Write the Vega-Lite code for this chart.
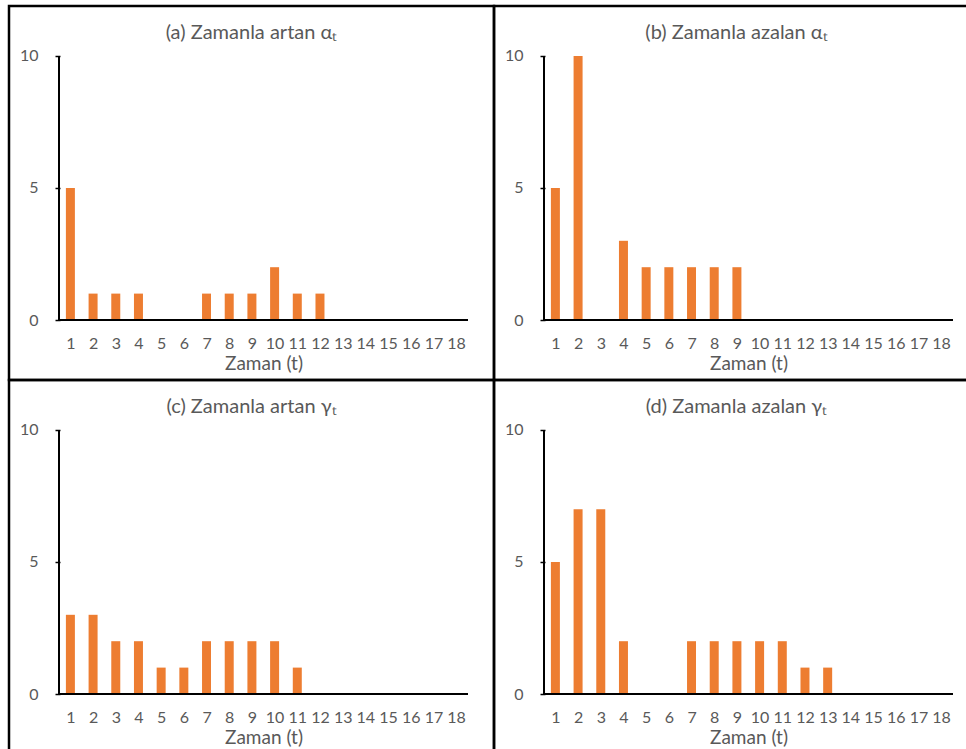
{
  "$schema": "https://vega.github.io/schema/vega-lite/v6.json",
  "padding": {"left": 7, "top": 4, "right": 2, "bottom": 2},
  "background": "white",
  "datasets": {
    "a": [{"t":1,"n":5},{"t":2,"n":1},{"t":3,"n":1},{"t":4,"n":1},{"t":5,"n":0},{"t":6,"n":0},{"t":7,"n":1},{"t":8,"n":1},{"t":9,"n":1},{"t":10,"n":2},{"t":11,"n":1},{"t":12,"n":1},{"t":13,"n":0},{"t":14,"n":0},{"t":15,"n":0},{"t":16,"n":0},{"t":17,"n":0},{"t":18,"n":0}],
    "b": [{"t":1,"n":5},{"t":2,"n":10},{"t":3,"n":0},{"t":4,"n":3},{"t":5,"n":2},{"t":6,"n":2},{"t":7,"n":2},{"t":8,"n":2},{"t":9,"n":2},{"t":10,"n":0},{"t":11,"n":0},{"t":12,"n":0},{"t":13,"n":0},{"t":14,"n":0},{"t":15,"n":0},{"t":16,"n":0},{"t":17,"n":0},{"t":18,"n":0}],
    "c": [{"t":1,"n":3},{"t":2,"n":3},{"t":3,"n":2},{"t":4,"n":2},{"t":5,"n":1},{"t":6,"n":1},{"t":7,"n":2},{"t":8,"n":2},{"t":9,"n":2},{"t":10,"n":2},{"t":11,"n":1},{"t":12,"n":0},{"t":13,"n":0},{"t":14,"n":0},{"t":15,"n":0},{"t":16,"n":0},{"t":17,"n":0},{"t":18,"n":0}],
    "d": [{"t":1,"n":5},{"t":2,"n":7},{"t":3,"n":7},{"t":4,"n":2},{"t":5,"n":0},{"t":6,"n":0},{"t":7,"n":2},{"t":8,"n":2},{"t":9,"n":2},{"t":10,"n":2},{"t":11,"n":2},{"t":12,"n":1},{"t":13,"n":1},{"t":14,"n":0},{"t":15,"n":0},{"t":16,"n":0},{"t":17,"n":0},{"t":18,"n":0}]
  },
  "columns": 2,
  "spacing": 0,
  "bounds": "flush",
  "concat": [
    {
      "data": {"name": "a"},
      "width": 485, "height": 374,
      "title": {"text": "(a) Zamanla artan αₜ"},
      "layer": [
        {"mark": {"type": "bar", "size": 9, "color": "#ED7D31"},
         "encoding": {
           "x": {"field": "t", "type": "quantitative", "scale": {"domain": [-1.4856, 19.4496], "nice": false, "zero": false},
                 "axis": {"values": [1,2,3,4,5,6,7,8,9,10,11,12,13,14,15,16,17,18], "labelOverlap": false, "title": "Zaman (t)"}},
           "y": {"field": "n", "type": "quantitative", "scale": {"domain": [-2.2727, 11.8939], "nice": false, "zero": false},
                 "axis": {"values": [0,5,10], "title": null}},
           "y2": {"datum": 0}
         }},
        {"mark": {"type": "rule", "color": "#000000", "strokeWidth": 1.5},
         "encoding": {"x": {"datum": 0.5, "axis": {"values": [1,2,3,4,5,6,7,8,9,10,11,12,13,14,15,16,17,18], "labelOverlap": false, "title": "Zaman (t)"}}, "y": {"datum": 0, "axis": {"values": [0,5,10], "title": null}}, "y2": {"datum": 10}}},
        {"mark": {"type": "rule", "color": "#000000", "strokeWidth": 1.5},
         "encoding": {"x": {"datum": 0.5, "axis": {"values": [1,2,3,4,5,6,7,8,9,10,11,12,13,14,15,16,17,18], "labelOverlap": false, "title": "Zaman (t)"}}, "x2": {"datum": 18.5}, "y": {"datum": 0, "axis": {"values": [0,5,10], "title": null}}}}
      ]
    },
    {
      "data": {"name": "b"},
      "width": 485, "height": 374,
      "title": {"text": "(b) Zamanla azalan αₜ"},
      "layer": [
        {"mark": {"type": "bar", "size": 9, "color": "#ED7D31"},
         "encoding": {
           "x": {"field": "t", "type": "quantitative", "scale": {"domain": [-1.4856, 19.4496], "nice": false, "zero": false},
                 "axis": {"values": [1,2,3,4,5,6,7,8,9,10,11,12,13,14,15,16,17,18], "labelOverlap": false, "title": "Zaman (t)"}},
           "y": {"field": "n", "type": "quantitative", "scale": {"domain": [-2.2727, 11.8939], "nice": false, "zero": false},
                 "axis": {"values": [0,5,10], "title": null}},
           "y2": {"datum": 0}
         }},
        {"mark": {"type": "rule", "color": "#000000", "strokeWidth": 1.5},
         "encoding": {"x": {"datum": 0.5, "axis": {"values": [1,2,3,4,5,6,7,8,9,10,11,12,13,14,15,16,17,18], "labelOverlap": false, "title": "Zaman (t)"}}, "y": {"datum": 0, "axis": {"values": [0,5,10], "title": null}}, "y2": {"datum": 10}}},
        {"mark": {"type": "rule", "color": "#000000", "strokeWidth": 1.5},
         "encoding": {"x": {"datum": 0.5, "axis": {"values": [1,2,3,4,5,6,7,8,9,10,11,12,13,14,15,16,17,18], "labelOverlap": false, "title": "Zaman (t)"}}, "x2": {"datum": 18.5}, "y": {"datum": 0, "axis": {"values": [0,5,10], "title": null}}}}
      ]
    },
    {
      "data": {"name": "c"},
      "width": 485, "height": 374,
      "title": {"text": "(c) Zamanla artan  γₜ"},
      "layer": [
        {"mark": {"type": "bar", "size": 9, "color": "#ED7D31"},
         "encoding": {
           "x": {"field": "t", "type": "quantitative", "scale": {"domain": [-1.4856, 19.4496], "nice": false, "zero": false},
                 "axis": {"values": [1,2,3,4,5,6,7,8,9,10,11,12,13,14,15,16,17,18], "labelOverlap": false, "title": "Zaman (t)"}},
           "y": {"field": "n", "type": "quantitative", "scale": {"domain": [-2.2727, 11.8939], "nice": false, "zero": false},
                 "axis": {"values": [0,5,10], "title": null}},
           "y2": {"datum": 0}
         }},
        {"mark": {"type": "rule", "color": "#000000", "strokeWidth": 1.5},
         "encoding": {"x": {"datum": 0.5, "axis": {"values": [1,2,3,4,5,6,7,8,9,10,11,12,13,14,15,16,17,18], "labelOverlap": false, "title": "Zaman (t)"}}, "y": {"datum": 0, "axis": {"values": [0,5,10], "title": null}}, "y2": {"datum": 10}}},
        {"mark": {"type": "rule", "color": "#000000", "strokeWidth": 1.5},
         "encoding": {"x": {"datum": 0.5, "axis": {"values": [1,2,3,4,5,6,7,8,9,10,11,12,13,14,15,16,17,18], "labelOverlap": false, "title": "Zaman (t)"}}, "x2": {"datum": 18.5}, "y": {"datum": 0, "axis": {"values": [0,5,10], "title": null}}}}
      ]
    },
    {
      "data": {"name": "d"},
      "width": 485, "height": 374,
      "title": {"text": "(d) Zamanla azalan γₜ"},
      "layer": [
        {"mark": {"type": "bar", "size": 9, "color": "#ED7D31"},
         "encoding": {
           "x": {"field": "t", "type": "quantitative", "scale": {"domain": [-1.4856, 19.4496], "nice": false, "zero": false},
                 "axis": {"values": [1,2,3,4,5,6,7,8,9,10,11,12,13,14,15,16,17,18], "labelOverlap": false, "title": "Zaman (t)"}},
           "y": {"field": "n", "type": "quantitative", "scale": {"domain": [-2.2727, 11.8939], "nice": false, "zero": false},
                 "axis": {"values": [0,5,10], "title": null}},
           "y2": {"datum": 0}
         }},
        {"mark": {"type": "rule", "color": "#000000", "strokeWidth": 1.5},
         "encoding": {"x": {"datum": 0.5, "axis": {"values": [1,2,3,4,5,6,7,8,9,10,11,12,13,14,15,16,17,18], "labelOverlap": false, "title": "Zaman (t)"}}, "y": {"datum": 0, "axis": {"values": [0,5,10], "title": null}}, "y2": {"datum": 10}}},
        {"mark": {"type": "rule", "color": "#000000", "strokeWidth": 1.5},
         "encoding": {"x": {"datum": 0.5, "axis": {"values": [1,2,3,4,5,6,7,8,9,10,11,12,13,14,15,16,17,18], "labelOverlap": false, "title": "Zaman (t)"}}, "x2": {"datum": 18.5}, "y": {"datum": 0, "axis": {"values": [0,5,10], "title": null}}}}
      ]
    }
  ],
  "config": {
    "font": "Lato",
    "view": {"stroke": "#000000", "strokeWidth": 2.5},
    "title": {"font": "Lato", "fontSize": 20, "fontWeight": "normal", "color": "#595959", "offset": -37, "baseline": "alphabetic", "anchor": "middle", "frame": "group"},
    "axis": {"labelFont": "Lato", "labelFontSize": 16, "labelColor": "#595959", "labelOverlap": false, "titleFont": "Lato", "titleFontSize": 19, "titleFontWeight": "normal", "titleColor": "#595959", "tickColor": "#000000", "tickWidth": 1.5, "grid": false, "domain": false},
    "axisX": {"offset": -60, "ticks": false, "labelPadding": 15, "labelFlush": false, "labelOverlap": false, "format": "d", "titleX": 254.5, "titlePadding": 3},
    "axisY": {"offset": -46, "tickSize": -5, "labelPadding": 22}
  }
}
